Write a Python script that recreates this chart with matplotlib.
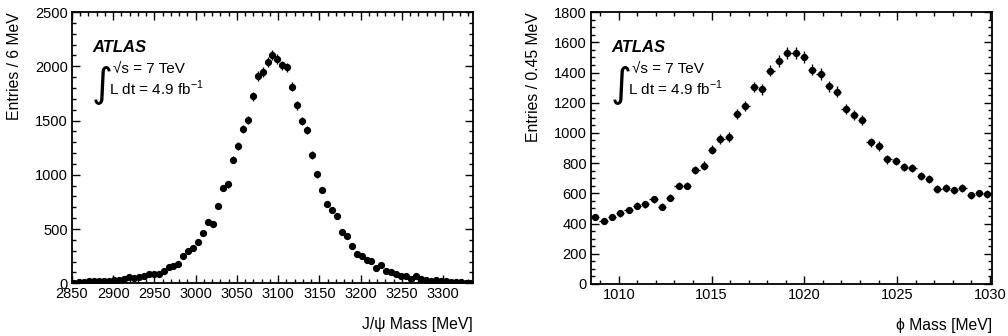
import numpy as np
import matplotlib.pyplot as plt
from matplotlib.ticker import MultipleLocator

plt.rcParams['font.family'] = ['Liberation Sans', 'DejaVu Sans']

# J/psi mass spectrum, 6 MeV bins from 2850 MeV
jpsi_lo, jpsi_bw = 2850, 6
jpsi_counts = [6, 10, 10, 17, 17, 17, 20, 23, 26, 26, 36, 55, 46, 58, 68, 86, 86, 83, 117, 148,
               163, 178, 252, 298, 323, 378, 467, 569, 547, 710, 879, 913, 1138, 1264, 1421, 1504,
               1725, 1910, 1950, 2039, 2106, 2069, 2008, 1990, 1811, 1642, 1497, 1411, 1181, 1005,
               858, 732, 673, 618, 473, 436, 348, 268, 255, 212, 209, 145, 166, 114, 105, 83,
               71, 65, 40, 65, 43, 34, 22, 34, 25, 18, 15, 12, 12, 6, 4]

# phi mass spectrum, 0.45 MeV bins from 1008.5 MeV
phi_lo, phi_bw = 1008.5, 0.45
phi_counts = [445, 419, 445, 468, 490, 518, 527, 560, 510, 571, 651, 651, 752, 783, 887, 960,
              973, 1123, 1180, 1304, 1288, 1412, 1478, 1531, 1531, 1504, 1418, 1390, 1310, 1273,
              1160, 1118, 1085, 938, 913, 825, 814, 776, 768, 715, 697, 629, 635, 620, 637, 587,
              600, 596]


def draw_panel(ax, lo, bw, counts, ylim, xmaj, xmin_, ymaj, ymin_, ylab, xlab):
    counts = np.array(counts, dtype=float)
    n = len(counts)
    centers = lo + bw * (np.arange(n) + 0.5)
    ax.errorbar(centers, counts, yerr=np.sqrt(counts), xerr=bw / 2, fmt='o', color='black',
                ms=4.2, elinewidth=1, capsize=0)
    ax.set_xlim(lo, lo + bw * n)
    ax.set_ylim(*ylim)
    ax.xaxis.set_major_locator(MultipleLocator(xmaj))
    ax.xaxis.set_minor_locator(MultipleLocator(xmin_))
    ax.yaxis.set_major_locator(MultipleLocator(ymaj))
    ax.yaxis.set_minor_locator(MultipleLocator(ymin_))
    ax.tick_params(which='both', direction='in', top=True, right=True, labelsize=10.5, width=1)
    ax.tick_params(which='major', length=6, pad=3)
    ax.tick_params(which='minor', length=3)
    for s in ax.spines.values():
        s.set_linewidth(1.3)
    ax.set_ylabel(ylab, loc='top', fontsize=11.3)
    ax.yaxis.set_label_coords(-0.125, 1)
    ax.set_xlabel(xlab, loc='right', fontsize=11.3)
    ax.xaxis.set_label_coords(1, -0.125)
    tr = ax.transAxes
    ax.text(0.052, 0.87, 'ATLAS', transform=tr, fontsize=12, fontweight='bold',
            fontstyle='italic', va='center')
    ax.text(0.050, 0.735, '\u222b', transform=tr, fontsize=29, va='center',
            family=['DejaVu Sans'])
    ax.text(0.103, 0.79, '\u221as = 7 TeV', transform=tr, fontsize=11, va='center')
    ax.text(0.092, 0.72, 'L dt = 4.9 fb$^{\\mathregular{-1}}$', transform=tr, fontsize=11,
            va='center')


fig = plt.figure(figsize=(10.08, 3.36), dpi=100)
ax1 = fig.add_axes([0.0714, 0.157, 0.3978, 0.807])
ax2 = fig.add_axes([0.5863, 0.155, 0.3975, 0.809])

draw_panel(ax1, jpsi_lo, jpsi_bw, jpsi_counts, (0, 2500), 50, 10, 500, 100,
           'Entries / 6 MeV', 'J/\u03c8 Mass [MeV]')
draw_panel(ax2, phi_lo, phi_bw, phi_counts, (0, 1800), 5, 1, 200, 50,
           'Entries / 0.45 MeV', '\u03d5 Mass [MeV]')

fig.savefig('out.png', dpi=100)
